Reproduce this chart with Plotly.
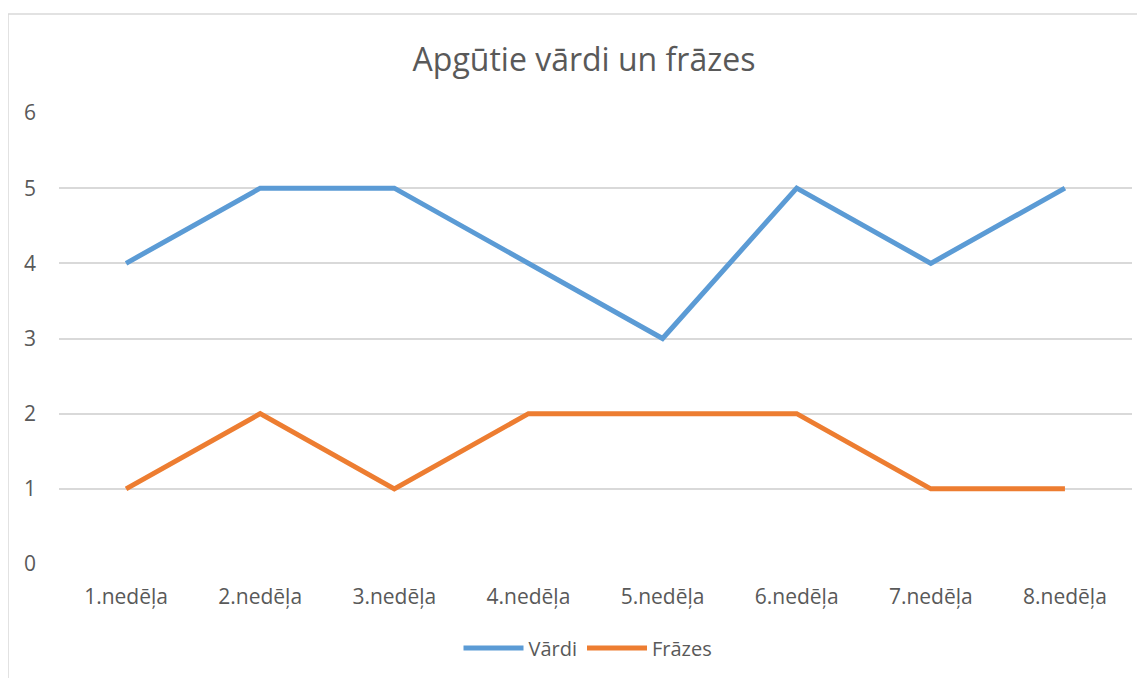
import plotly.graph_objects as go

weeks = ["1.nedēļa", "2.nedēļa", "3.nedēļa", "4.nedēļa",
         "5.nedēļa", "6.nedēļa", "7.nedēļa", "8.nedēļa"]
vardi = [4, 5, 5, 4, 3, 5, 4, 5]
frazes = [1, 2, 1, 2, 2, 2, 1, 1]

# page body has an 8px margin, so the figure starts at (8, 8) on screen
W, H = 1145, 678
L, T = 51, 105
pw, ph = 1073, 451
R, B = W - L - pw, H - T - ph

fig = go.Figure()
fig.add_trace(go.Scatter(x=weeks, y=vardi, name="Vārdi", mode="lines",
                         line=dict(color="#5B9BD5", width=5)))
fig.add_trace(go.Scatter(x=weeks, y=frazes, name="Frāzes", mode="lines",
                         line=dict(color="#ED7D31", width=5)))

# chart area border (only left and top visible in the crop)
bx = (0 - L) / pw
by = 1 + (T - 6) / ph
fig.add_shape(type="line", xref="paper", yref="paper",
              x0=bx, x1=bx, y0=-1, y1=by,
              line=dict(color="#d9d9d9", width=1.5))
fig.add_shape(type="line", xref="paper", yref="paper",
              x0=bx, x1=1.5, y0=by, y1=by,
              line=dict(color="#d9d9d9", width=1.5))

font = "'Open Sans', sans-serif"
fig.update_layout(
    width=W, height=H,
    margin=dict(l=L, r=R, t=T, b=B),
    paper_bgcolor="white", plot_bgcolor="white",
    font=dict(family=font, color="#595959", size=20),
    title=dict(text="Apgūtie vārdi un frāzes", x=(584 - 8) / W, xanchor="center",
               y=1 - (60 - 8) / H, yanchor="middle",
               font=dict(size=32, color="#595959", family=font)),
    showlegend=True,
    legend=dict(orientation="h", x=(588 - 8 - L) / pw, xanchor="center",
                y=-(648 - 8 - (T + ph)) / ph, yanchor="middle",
                font=dict(size=20, color="#595959"), itemwidth=60),
    xaxis=dict(showgrid=False, showline=False, ticks="",
               range=[-0.5, len(weeks) - 0.5],
               ticklabelstandoff=18, tickfont=dict(size=21)),
    yaxis=dict(range=[0, 6], dtick=1, showgrid=True, gridcolor="#d9d9d9",
               gridwidth=1.5, zeroline=False, showline=False, ticks="",
               ticklabelstandoff=22, tickfont=dict(size=21)),
)

fig.write_html("out.html")
